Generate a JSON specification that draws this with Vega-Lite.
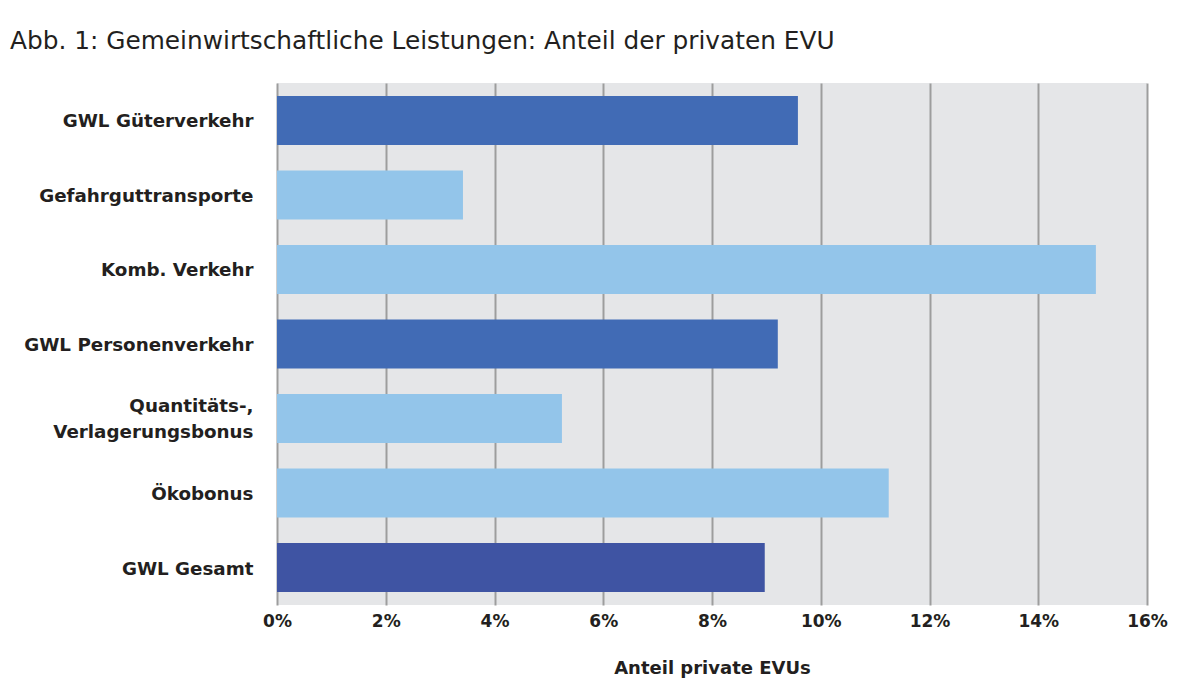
{
  "$schema": "https://vega.github.io/schema/vega-lite/v6.json",
  "width": 870,
  "height": 522,
  "autosize": {"type": "none"},
  "padding": {"left": 277, "top": 83, "right": 57, "bottom": 91},
  "background": "white",
  "title": {
    "text": "Abb. 1: Gemeinwirtschaftliche Leistungen: Anteil der privaten EVU",
    "anchor": "start",
    "frame": "group",
    "dx": -267,
    "offset": 29,
    "font": "DejaVu Sans",
    "fontSize": 24.8,
    "fontWeight": "normal",
    "color": "#231f20"
  },
  "data": {
    "values": [
      {"kategorie": "GWL Güterverkehr", "anteil": 0.0958, "gruppe": "GWL"},
      {"kategorie": "Gefahrguttransporte", "anteil": 0.0342, "gruppe": "Einzel"},
      {"kategorie": "Komb. Verkehr", "anteil": 0.1506, "gruppe": "Einzel"},
      {"kategorie": "GWL Personenverkehr", "anteil": 0.0921, "gruppe": "GWL"},
      {"kategorie": "Quantitäts-,|Verlagerungsbonus", "anteil": 0.0524, "gruppe": "Einzel"},
      {"kategorie": "Ökobonus", "anteil": 0.1125, "gruppe": "Einzel"},
      {"kategorie": "GWL Gesamt", "anteil": 0.0897, "gruppe": "Gesamt"}
    ]
  },
  "mark": {"type": "bar"},
  "encoding": {
    "y": {
      "field": "kategorie",
      "type": "nominal",
      "sort": null,
      "scale": {"paddingInner": 0.342, "paddingOuter": 0.174},
      "axis": {
        "title": null,
        "domain": false,
        "ticks": false,
        "labelPadding": 24,
        "labelFont": "DejaVu Sans",
        "labelFontSize": 18.3,
        "labelFontWeight": "bold",
        "labelColor": "#231f20",
        "labelLimit": 300,
        "labelLineHeight": 26,
        "labelOffset": {"condition": {"test": "indexof(datum.value, '|') >= 0", "value": -12}, "value": 2},
        "labelExpr": "split(datum.label, '|')"
      }
    },
    "x": {
      "field": "anteil",
      "type": "quantitative",
      "scale": {"domain": [0, 0.16], "nice": false},
      "axis": {
        "title": "Anteil private EVUs",
        "titleFont": "DejaVu Sans",
        "titleFontSize": 18,
        "titleFontWeight": "bold",
        "titleColor": "#231f20",
        "titlePadding": 30,
        "format": ".0%",
        "values": [0, 0.02, 0.04, 0.06, 0.08, 0.1, 0.12, 0.14, 0.16],
        "domain": false,
        "ticks": false,
        "labelFlush": false,
        "labelPadding": 8,
        "labelFont": "DejaVu Sans",
        "labelFontSize": 17,
        "labelFontWeight": "bold",
        "labelColor": "#231f20",
        "grid": true,
        "gridColor": "#9d9d9d",
        "gridWidth": 2,
        "gridOpacity": 1
      }
    },
    "color": {
      "field": "gruppe",
      "type": "nominal",
      "scale": {"domain": ["GWL", "Einzel", "Gesamt"], "range": ["#416bb5", "#93c5ea", "#3f54a3"]},
      "legend": null
    }
  },
  "config": {
    "view": {"fill": "#e5e6e8", "stroke": null}
  }
}
